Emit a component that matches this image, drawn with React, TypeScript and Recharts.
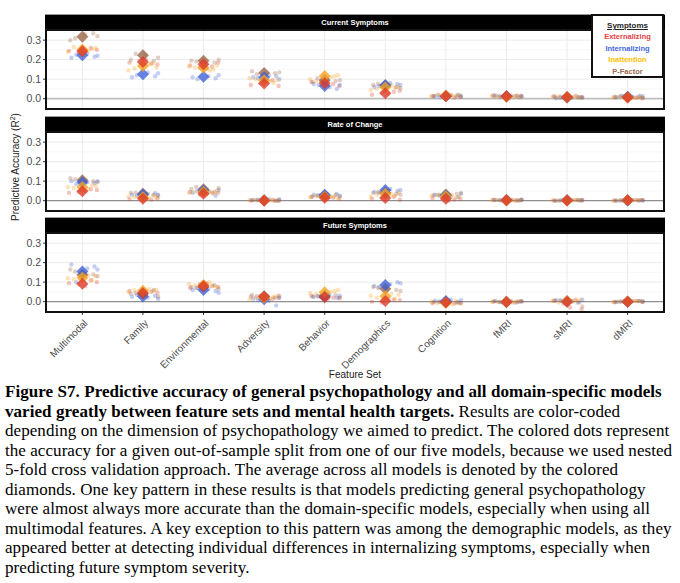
import React from "react"
import { ReferenceLine, Scatter, ScatterChart, XAxis, YAxis } from "recharts"

const CATEGORIES = ["Multimodal", "Family", "Environmental", "Adversity", "Behavior", "Demographics", "Cognition", "fMRI", "sMRI", "dMRI"]
const SYMPTOMS = ["Externalizing", "Internalizing", "Inattention", "P-Factor"]
const Y_TICKS = [0, 0.1, 0.2, 0.3]
const Y_MINOR = [-0.05, 0.05, 0.15, 0.25, 0.35]

// mean R2 per feature set (diamonds)
const CURRENT_EXT = [0.243, 0.188, 0.176, 0.078, 0.079, 0.028, 0.012, 0.012, 0.008, 0.006]
const CURRENT_INT = [0.222, 0.125, 0.112, 0.11, 0.065, 0.07, 0.014, 0.012, 0.006, 0.01]
const CURRENT_INATT = [0.252, 0.167, 0.158, 0.095, 0.116, 0.057, 0.016, 0.01, 0.008, 0.006]
const CURRENT_PF = [0.318, 0.222, 0.194, 0.132, 0.095, 0.066, 0.014, 0.012, 0.006, 0.008]

const RATE_EXT = [0.048, 0.01, 0.035, 0.0, 0.015, 0.014, 0.01, 0.002, 0.001, 0.002]
const RATE_INT = [0.095, 0.032, 0.052, 0.002, 0.03, 0.055, 0.026, 0.003, 0.002, 0.001]
const RATE_INATT = [0.07, 0.018, 0.045, 0.001, 0.02, 0.035, 0.022, 0.002, 0.001, 0.002]
const RATE_PF = [0.105, 0.035, 0.058, 0.002, 0.026, 0.042, 0.032, 0.003, 0.002, 0.002]

const FUTURE_EXT = [0.092, 0.044, 0.08, 0.025, 0.022, 0.004, -0.004, -0.002, 0.0, -0.001]
const FUTURE_INT = [0.155, 0.026, 0.06, 0.012, 0.025, 0.085, 0.003, -0.001, 0.002, 0.0]
const FUTURE_INATT = [0.122, 0.056, 0.086, 0.02, 0.048, 0.028, -0.005, -0.001, 0.003, 0.001]
const FUTURE_PF = [0.138, 0.04, 0.075, 0.028, 0.03, 0.066, -0.003, -0.002, 0.001, 0.0]

// per-fold R2 (dots), 5 folds per feature set
const CURRENT_EXT_DOTS = [
  [0.245, 0.26, 0.235, 0.25, 0.24], [0.18, 0.195, 0.175, 0.2, 0.185], [0.16, 0.185, 0.155, 0.17, 0.165],
  [0.065, 0.09, 0.07, 0.095, 0.08], [0.07, 0.085, 0.075, 0.09, 0.065], [0.02, 0.035, 0.03, 0.04, 0.025],
  [0.005, 0.015, 0.01, 0.02, 0.012], [0.01, 0.015, 0.005, 0.018, 0.012], [0.008, 0.004, 0.012, 0.015, 0.003],
  [0.003, 0.01, 0.006, 0.012, 0.002],
]
const CURRENT_INT_DOTS = [
  [0.215, 0.21, 0.23, 0.225, 0.22], [0.11, 0.135, 0.12, 0.13, 0.115], [0.115, 0.1, 0.12, 0.105, 0.11],
  [0.105, 0.1, 0.115, 0.11, 0.12], [0.07, 0.05, 0.075, 0.06, 0.07], [0.075, 0.06, 0.08, 0.065, 0.07],
  [0.012, 0.018, 0.01, 0.015, 0.02], [0.015, 0.01, 0.012, 0.008, 0.016], [0.01, 0.005, 0.008, 0.002, 0.006],
  [0.012, 0.015, 0.008, 0.01, 0.014],
]
const CURRENT_INATT_DOTS = [
  [0.265, 0.26, 0.24, 0.245, 0.255], [0.16, 0.145, 0.175, 0.18, 0.155], [0.165, 0.145, 0.15, 0.16, 0.17],
  [0.09, 0.08, 0.1, 0.095, 0.105], [0.115, 0.09, 0.12, 0.1, 0.11], [0.05, 0.06, 0.045, 0.07, 0.055],
  [0.02, 0.012, 0.018, 0.015, 0.022], [0.012, 0.008, 0.015, 0.01, 0.006], [0.006, 0.01, 0.012, 0.004, 0.008],
  [0.004, 0.008, 0.01, 0.006, 0.005],
]
const CURRENT_PF_DOTS = [
  [0.3, 0.335, 0.31, 0.32, 0.33], [0.195, 0.23, 0.21, 0.225, 0.2], [0.19, 0.2, 0.175, 0.195, 0.185],
  [0.135, 0.13, 0.14, 0.13, 0.125], [0.1, 0.085, 0.09, 0.105, 0.095], [0.07, 0.06, 0.075, 0.055, 0.065],
  [0.012, 0.018, 0.01, 0.015, 0.014], [0.014, 0.01, 0.015, 0.012, 0.016], [0.008, 0.004, 0.01, 0.006, 0.005],
  [0.01, 0.006, 0.008, 0.012, 0.004],
]

const RATE_EXT_DOTS = [
  [0.04, 0.06, 0.045, 0.055, 0.05], [0.005, 0.02, 0.012, 0.025, 0.008], [0.03, 0.04, 0.035, 0.045, 0.04],
  [-0.002, 0.003, 0.0, 0.005, 0.001], [0.01, 0.02, 0.015, 0.025, 0.008], [0.01, 0.02, 0.015, 0.005, 0.025],
  [0.005, 0.015, 0.01, 0.0, 0.012], [0.0, 0.004, 0.002, 0.005, 0.001], [0.001, 0.003, 0.0, 0.004, 0.002],
  [0.002, 0.0, 0.004, 0.001, 0.003],
]
const RATE_INT_DOTS = [
  [0.09, 0.1, 0.095, 0.085, 0.1], [0.03, 0.035, 0.025, 0.03, 0.038], [0.045, 0.05, 0.055, 0.025, 0.04],
  [0.005, 0.008, 0.0, 0.003, 0.006], [0.025, 0.035, 0.03, 0.02, 0.028], [0.05, 0.045, 0.06, 0.04, 0.055],
  [0.03, 0.02, 0.025, 0.035, 0.018], [0.004, 0.002, 0.005, 0.0, 0.003], [0.002, 0.004, 0.001, 0.0, 0.003],
  [0.0, 0.002, -0.002, 0.003, 0.001],
]
const RATE_INATT_DOTS = [
  [0.065, 0.075, 0.07, 0.06, 0.08], [0.015, 0.02, 0.01, 0.025, 0.018], [0.04, 0.05, 0.035, 0.045, 0.05],
  [0.002, 0.0, 0.004, 0.001, 0.003], [0.02, 0.025, 0.012, 0.018, 0.022], [0.03, 0.04, 0.02, 0.035, 0.025],
  [0.02, 0.025, 0.03, 0.015, 0.028], [0.002, 0.004, 0.0, 0.003, 0.001], [0.001, 0.003, 0.0, 0.002, 0.004],
  [0.003, 0.001, 0.004, 0.0, 0.002],
]
const RATE_PF_DOTS = [
  [0.115, 0.1, 0.11, 0.095, 0.105], [0.03, 0.04, 0.025, 0.035, 0.04], [0.07, 0.065, 0.055, 0.06, 0.045],
  [0.003, 0.001, 0.004, 0.0, 0.002], [0.035, 0.02, 0.03, 0.025, 0.022], [0.04, 0.035, 0.045, 0.03, 0.05],
  [0.035, 0.03, 0.04, 0.025, 0.028], [0.003, 0.005, 0.001, 0.004, 0.002], [0.002, 0.003, 0.0, 0.004, 0.001],
  [0.001, 0.003, 0.0, 0.002, 0.004],
]

const FUTURE_EXT_DOTS = [
  [0.095, 0.11, 0.09, 0.1, 0.08], [0.05, 0.035, 0.045, 0.03, 0.055], [0.09, 0.075, 0.095, 0.07, 0.08],
  [0.02, 0.03, 0.025, 0.015, 0.03], [0.015, 0.03, 0.02, 0.025, 0.018], [0.0, 0.01, -0.005, 0.008, 0.015],
  [-0.01, 0.0, -0.005, 0.005, -0.008], [-0.004, 0.002, -0.002, 0.0, -0.005], [-0.04, -0.03, 0.005, 0.01, -0.01],
  [0.0, -0.003, 0.004, 0.002, -0.002],
]
const FUTURE_INT_DOTS = [
  [0.18, 0.19, 0.17, 0.1, 0.165], [0.025, 0.02, 0.035, 0.015, 0.03], [0.065, 0.07, 0.045, 0.055, 0.06],
  [0.01, 0.02, -0.02, 0.015, 0.005], [0.03, 0.02, 0.025, 0.035, 0.028], [0.1, 0.08, 0.09, 0.075, 0.095],
  [0.005, 0.01, 0.0, 0.008, -0.002], [0.002, -0.002, 0.003, 0.0, 0.004], [0.005, 0.01, -0.003, 0.008, 0.002],
  [0.002, 0.004, -0.002, 0.003, 0.0],
]
const FUTURE_INATT_DOTS = [
  [0.115, 0.13, 0.12, 0.135, 0.11], [0.06, 0.05, 0.065, 0.055, 0.06], [0.09, 0.1, 0.08, 0.085, 0.075],
  [0.015, 0.025, 0.02, 0.03, 0.01], [0.055, 0.04, 0.06, 0.045, 0.05], [0.02, 0.035, 0.03, 0.04, 0.015],
  [-0.01, 0.0, -0.015, 0.005, -0.008], [0.0, -0.003, 0.002, -0.001, 0.003], [0.0, 0.006, -0.005, 0.01, 0.004],
  [0.002, 0.0, 0.004, -0.002, 0.003],
]
const FUTURE_PF_DOTS = [
  [0.165, 0.14, 0.155, 0.13, 0.145], [0.06, 0.045, 0.025, 0.035, 0.04], [0.07, 0.065, 0.08, 0.075, 0.085],
  [0.03, 0.025, 0.035, 0.02, 0.028], [0.03, 0.025, 0.035, 0.028, 0.02], [0.075, 0.06, 0.07, 0.055, 0.065],
  [-0.005, 0.0, -0.008, 0.003, -0.002], [-0.002, 0.0, -0.004, 0.002, -0.003], [-0.025, 0.0, 0.005, -0.005, 0.008],
  [0.0, -0.002, 0.003, 0.001, -0.001],
]

// horizontal jitter of the fold dots (category units), one row per symptom
const JITTER = [
  [-0.22, 0.14, -0.06, 0.24, 0.05],
  [0.2, -0.18, 0.08, -0.1, 0.25],
  [-0.14, 0.22, -0.24, 0.1, 0.16],
  [-0.2, 0.18, -0.12, 0.25, 0.04],
]

const COLORS: Record<string, string> = {
  Externalizing: "#dc3a28",
  Internalizing: "#3e60d6",
  Inattention: "#f5a31c",
  "P-Factor": "#9a6446",
}
const LEGEND_COLORS: Record<string, string> = {
  Externalizing: "#e5413f",
  Internalizing: "#3f66de",
  Inattention: "#ffbe00",
  "P-Factor": "#9a6a52",
}

const PANELS = [
  {
    title: "Current Symptoms",
    means: [CURRENT_EXT, CURRENT_INT, CURRENT_INATT, CURRENT_PF],
    dots: [CURRENT_EXT_DOTS, CURRENT_INT_DOTS, CURRENT_INATT_DOTS, CURRENT_PF_DOTS],
  },
  {
    title: "Rate of Change",
    means: [RATE_EXT, RATE_INT, RATE_INATT, RATE_PF],
    dots: [RATE_EXT_DOTS, RATE_INT_DOTS, RATE_INATT_DOTS, RATE_PF_DOTS],
  },
  {
    title: "Future Symptoms",
    means: [FUTURE_EXT, FUTURE_INT, FUTURE_INATT, FUTURE_PF],
    dots: [FUTURE_EXT_DOTS, FUTURE_INT_DOTS, FUTURE_INATT_DOTS, FUTURE_PF_DOTS],
  },
]

const PLOT_TOPS = [30, 132, 233]
const PLOT_LEFT = 46
const PLOT_RIGHT = 664
const PLOT_H = 79
const STRIP_H = 16
const SANS = "'Liberation Sans', Arial, sans-serif"
// diamonds drawn back to front
const DRAW_ORDER = [3, 1, 2, 0]

function dotShape(color: string) {
  return (p: any) => <circle cx={p.cx} cy={p.cy} r={2.2} fill={color} fillOpacity={0.3} />
}

function diamondShape(color: string) {
  return (p: any) => {
    const r = 6
    return (
      <polygon
        points={`${p.cx},${p.cy - r} ${p.cx + r},${p.cy} ${p.cx},${p.cy + r} ${p.cx - r},${p.cy}`}
        fill={color}
        fillOpacity={0.78}
      />
    )
  }
}

function XTick({ x, y, payload }: any) {
  return (
    <g transform={`translate(${x + 3},${y + 4})`}>
      <text x={0} y={0} dy={4} textAnchor="end" transform="rotate(-45)" fontSize={10} fill="#4d4d4d" fontFamily={SANS}>
        {CATEGORIES[payload.value]}
      </text>
    </g>
  )
}

function Panel({ idx }: { idx: number }) {
  const panel = PANELS[idx]
  const isLast = idx === PANELS.length - 1
  const top = PLOT_TOPS[idx]
  return (
    <>
      <div
        style={{
          position: "absolute",
          left: PLOT_LEFT - 1,
          top: top - STRIP_H,
          width: PLOT_RIGHT - PLOT_LEFT + 2,
          height: STRIP_H,
          background: "#000",
          borderTop: "1px solid #9a9a9a",
          boxSizing: "border-box",
          color: "#fff",
          fontFamily: SANS,
          fontWeight: 700,
          fontSize: 7.5,
          lineHeight: `${STRIP_H - 1}px`,
          textAlign: "center",
        }}
      >
        {panel.title}
      </div>
      <div style={{ position: "absolute", left: 0, top }}>
        <ScatterChart width={680} height={PLOT_H + (isLast ? 62 : 0)} margin={{ top: 0, right: 680 - PLOT_RIGHT, bottom: 0, left: 0 }}>
          <XAxis
            type="number"
            dataKey="x"
            domain={[-0.6, 9.6]}
            ticks={CATEGORIES.map((_, i) => i)}
            interval={0}
            hide={!isLast}
            height={62}
            axisLine={false}
            tickLine={{ stroke: "#333" }}
            tickSize={3}
            tick={<XTick />}
          />
          <YAxis
            type="number"
            dataKey="y"
            domain={[-0.053, 0.352]}
            ticks={Y_TICKS}
            allowDataOverflow
            width={PLOT_LEFT}
            axisLine={false}
            tickLine={{ stroke: "#333" }}
            tickSize={3}
            tickFormatter={(v: number) => v.toFixed(1)}
            tick={{ fontSize: 10.5, fill: "#4d4d4d", fontFamily: SANS }}
          />
          {Y_MINOR.map((v) => (
            <ReferenceLine key={`mn${v}`} y={v} stroke="#f3f3f3" strokeWidth={0.7} />
          ))}
          {Y_TICKS.slice(1).map((v) => (
            <ReferenceLine key={`mj${v}`} y={v} stroke="#ebebeb" strokeWidth={1} />
          ))}
          {CATEGORIES.map((_, i) => (
            <ReferenceLine key={`v${i}`} x={i} stroke="#ebebeb" strokeWidth={1} />
          ))}
          <ReferenceLine y={0} stroke={idx === 0 ? "#bdbdbd" : "#8f8f8f"} strokeWidth={idx === 0 ? 1.8 : 1.1} />
          {SYMPTOMS.map((s, si) => (
            <Scatter
              key={`d${s}`}
              data={panel.dots[si].flatMap((folds, ci) =>
                folds.map((v, fi) => ({ x: ci + JITTER[si][(fi + ci) % 5], y: v }))
              )}
              shape={dotShape(COLORS[s])}
              isAnimationActive={false}
            />
          ))}
          {DRAW_ORDER.map((si) => (
            <Scatter
              key={`m${si}`}
              data={panel.means[si].map((v, ci) => ({ x: ci, y: v }))}
              shape={diamondShape(COLORS[SYMPTOMS[si]])}
              isAnimationActive={false}
            />
          ))}
        </ScatterChart>
      </div>
      <div
        style={{
          position: "absolute",
          left: PLOT_LEFT - 1,
          top: top - 1,
          width: PLOT_RIGHT - PLOT_LEFT + 2,
          height: PLOT_H + 2,
          border: "2px solid #111",
          boxSizing: "border-box",
          pointerEvents: "none",
        }}
      />
    </>
  )
}

export default function App() {
  return (
    <div style={{ position: "absolute", left: 0, top: 0, width: 680, height: 583, background: "#fff", overflow: "hidden" }}>
      {PANELS.map((_, i) => (
        <Panel key={i} idx={i} />
      ))}
      <div
        style={{
          position: "absolute",
          left: 591,
          top: 14,
          width: 73,
          height: 64,
          border: "2px solid #111",
          boxSizing: "border-box",
          background: "#fff",
          fontFamily: SANS,
          fontWeight: 700,
          textAlign: "center",
          fontSize: 7.5,
        }}
      >
        <div style={{ marginTop: 5, fontSize: 8, textDecoration: "underline", color: "#222" }}>Symptoms</div>
        {SYMPTOMS.map((s) => (
          <div key={s} style={{ marginTop: 2.4, color: LEGEND_COLORS[s] }}>
            {s}
          </div>
        ))}
      </div>
      <div
        style={{
          position: "absolute",
          left: 15,
          top: 167,
          transform: "translate(-50%, -50%) rotate(-90deg)",
          whiteSpace: "nowrap",
          fontFamily: SANS,
          fontSize: 10,
          color: "#222",
        }}
      >
        Predictive Accuracy (R<sup style={{ fontSize: 7 }}>2</sup>)
      </div>
      <div
        style={{
          position: "absolute",
          left: (PLOT_LEFT + PLOT_RIGHT) / 2,
          top: 369,
          transform: "translateX(-50%)",
          fontFamily: SANS,
          fontSize: 10,
          color: "#222",
          whiteSpace: "nowrap",
        }}
      >
        Feature Set
      </div>
      <div
        style={{
          position: "absolute",
          left: 5,
          top: 382,
          fontFamily: "'Liberation Serif', 'Times New Roman', serif",
          fontSize: 17,
          letterSpacing: 0.06,
          lineHeight: "19.5px",
          color: "#000",
          whiteSpace: "nowrap",
        }}
      >
        <b>Figure S7. Predictive accuracy of general psychopathology and all domain-specific models</b>
        <br />
        <b>varied greatly between feature sets and mental health targets.</b> Results are color-coded
        <br />
        depending on the dimension of psychopathology we aimed to predict. The colored dots represent
        <br />
        the accuracy for a given out-of-sample split from one of our five models, because we used nested
        <br />
        5-fold cross validation approach. The average across all models is denoted by the colored
        <br />
        diamonds. One key pattern in these results is that models predicting general psychopathology
        <br />
        were almost always more accurate than the domain-specific models, especially when using all
        <br />
        multimodal features. A key exception to this pattern was among the demographic models, as they
        <br />
        appeared better at detecting individual differences in internalizing symptoms, especially when
        <br />
        predicting future symptom severity.
      </div>
    </div>
  )
}
